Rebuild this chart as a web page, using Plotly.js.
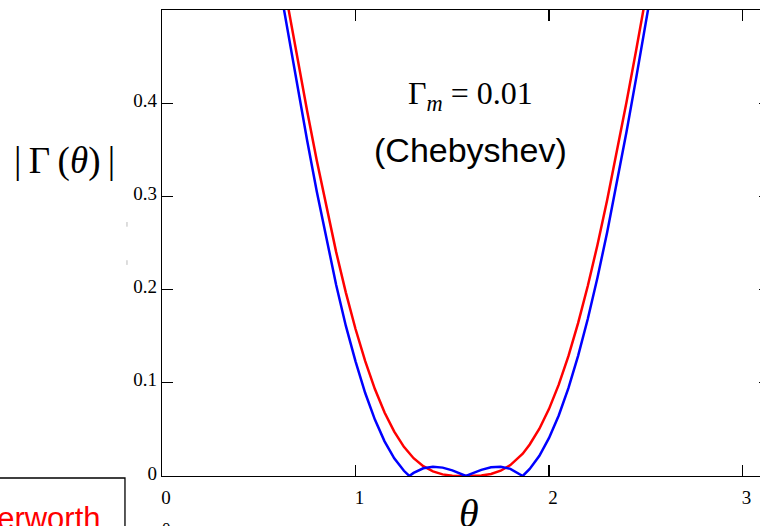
<!DOCTYPE html>
<html>
<head>
<meta charset="utf-8">
<script src="https://cdn.plot.ly/plotly-3.0.1.min.js"></script>
<style>
  html, body { margin: 0; padding: 0; overflow: hidden; background: #ffffff; }
  #chart { width: 780px; height: 526px; }
</style>
</head>
<body>
<div id="chart"></div>
<script>
// theta samples (radians)
const theta = [0.60, 0.65, 0.70, 0.75, 0.80, 0.85, 0.90, 0.95, 1.00, 1.05, 1.10, 1.15, 1.20, 1.25,
  1.278, 1.30, 1.35, 1.40, 1.45, 1.50, 1.55, 1.5708, 1.60, 1.65, 1.70, 1.75, 1.80, 1.85, 1.864,
  1.90, 1.95, 2.00, 2.05, 2.10, 2.15, 2.20, 2.25, 2.30, 2.35, 2.40, 2.45, 2.50, 2.55];

// Butterworth (red) |Gamma|
const butterworth = [0.562, 0.5045, 0.4474, 0.3917, 0.3382, 0.2875, 0.2402, 0.1968, 0.1577, 0.1232,
  0.0933, 0.0682, 0.0476, 0.0313, 0.0249, 0.0191, 0.0105, 0.0049, 0.00175, 0.00035, 0.00001, 0,
  0.00002, 0.0005, 0.00214, 0.00566, 0.01173, 0.02093, 0.0239, 0.03379, 0.05073, 0.07205, 0.09804,
  0.1286, 0.1640, 0.2038, 0.2479, 0.2958, 0.3470, 0.4010, 0.4569, 0.5141, 0.5720];

// Chebyshev (blue) |Gamma|
const chebyshev = [0.536, 0.476, 0.417, 0.360, 0.305, 0.253, 0.205, 0.161, 0.123, 0.089,
  0.0605, 0.0372, 0.0190, 0.0056, 0, 0.0033, 0.0083, 0.0100, 0.0090, 0.0060, 0.00186, 0,
  0.0026, 0.0066, 0.0093, 0.0099, 0.0077, 0.0021, 0,
  0.0076, 0.0217, 0.0408, 0.0649, 0.0942, 0.1289, 0.1684, 0.2127, 0.2613, 0.3136, 0.3691,
  0.4269, 0.4863, 0.5466];

const xTickVals = [0, 1, 2, 3];
const xTickText = ['0', '1', '2', '3'];
const yTickVals = [0, 0.1, 0.2, 0.3, 0.4];
const yTickText = ['0', '0.1', '0.2', '0.3', '0.4'];

const serif = 'Liberation Serif, Times New Roman, serif';
const sans = 'Liberation Sans, Arial, sans-serif';
const thin = '\u2009';

const traces = [
  { x: theta, y: butterworth, mode: 'lines', line: { color: '#ff0000', width: 2.5 }, showlegend: false, hoverinfo: 'skip' },
  { x: theta, y: chebyshev, mode: 'lines', line: { color: '#0000ff', width: 2.5 }, showlegend: false, hoverinfo: 'skip' }
];

const axisCommon = {
  showline: true, linecolor: '#000', linewidth: 1.3, mirror: 'ticks',
  ticks: 'inside', ticklen: 11, tickwidth: 1.2, tickcolor: '#000',
  showgrid: false, zeroline: false,
  tickfont: { family: serif, size: 19, color: '#000' }
};

const layout = {
  width: 780, height: 526,
  margin: { l: 162, r: 10, t: 10, b: 50 },
  paper_bgcolor: '#fff', plot_bgcolor: '#fff',
  xaxis: Object.assign({}, axisCommon, {
    range: [0, Math.PI], tickvals: xTickVals, ticktext: xTickText, ticklabelshift: 4, ticklabelstandoff: 4
  }),
  yaxis: Object.assign({}, axisCommon, {
    range: [0, 0.5], tickvals: yTickVals, ticktext: yTickText, ticklabelshift: -3
  }),
  shapes: [
    { type: 'rect', xref: 'paper', yref: 'paper', x0: -0.5, x1: -0.0609, y0: -0.0043, y1: -0.3,
      line: { color: '#000', width: 1.3 }, fillcolor: 'rgba(0,0,0,0)' },
    { type: 'line', xref: 'paper', yref: 'paper', x0: -0.0576, x1: -0.0576, y0: 0.545, y1: 0.535,
      line: { color: '#bbb', width: 1 } },
    { type: 'line', xref: 'paper', yref: 'paper', x0: -0.0576, x1: -0.0576, y0: 0.463, y1: 0.453,
      line: { color: '#bbb', width: 1 } }
  ],
  annotations: [
    { xref: 'paper', yref: 'paper', x: 0.5066, y: 0.8155, xanchor: 'center', yanchor: 'middle', showarrow: false,
      text: 'Γ<sub><i>m</i></sub> = 0.01', font: { family: serif, size: 32, color: '#000' } },
    { xref: 'paper', yref: 'paper', x: 0.5066, y: 0.6996, xanchor: 'center', yanchor: 'middle', showarrow: false,
      text: '(Chebyshev)', font: { family: sans, size: 34, color: '#000' } },
    { xref: 'paper', yref: 'paper', x: -0.161, y: 0.676, xanchor: 'center', yanchor: 'middle', showarrow: false,
      text: '|' + thin + 'Γ' + thin + '(<i>θ</i>)' + thin + '|', font: { family: serif, size: 37, color: '#000' } },
    { xref: 'paper', yref: 'paper', x: 0.505, y: -0.08, xanchor: 'center', yanchor: 'middle', showarrow: false,
      text: '<i>θ</i>', font: { family: serif, size: 40, color: '#000' } },
    { xref: 'paper', yref: 'paper', x: -0.0970, y: -0.092, xanchor: 'right', yanchor: 'middle', showarrow: false,
      text: 'Butterworth', font: { family: sans, size: 31, color: '#ff0000' } },
    { xref: 'paper', yref: 'paper', x: 0.0082, y: -0.088, xanchor: 'center', yanchor: 'top', showarrow: false,
      text: '0', font: { family: serif, size: 17, color: '#000' } }
  ]
};

Plotly.newPlot('chart', traces, layout, { staticPlot: true, displayModeBar: false });
</script>
</body>
</html>
